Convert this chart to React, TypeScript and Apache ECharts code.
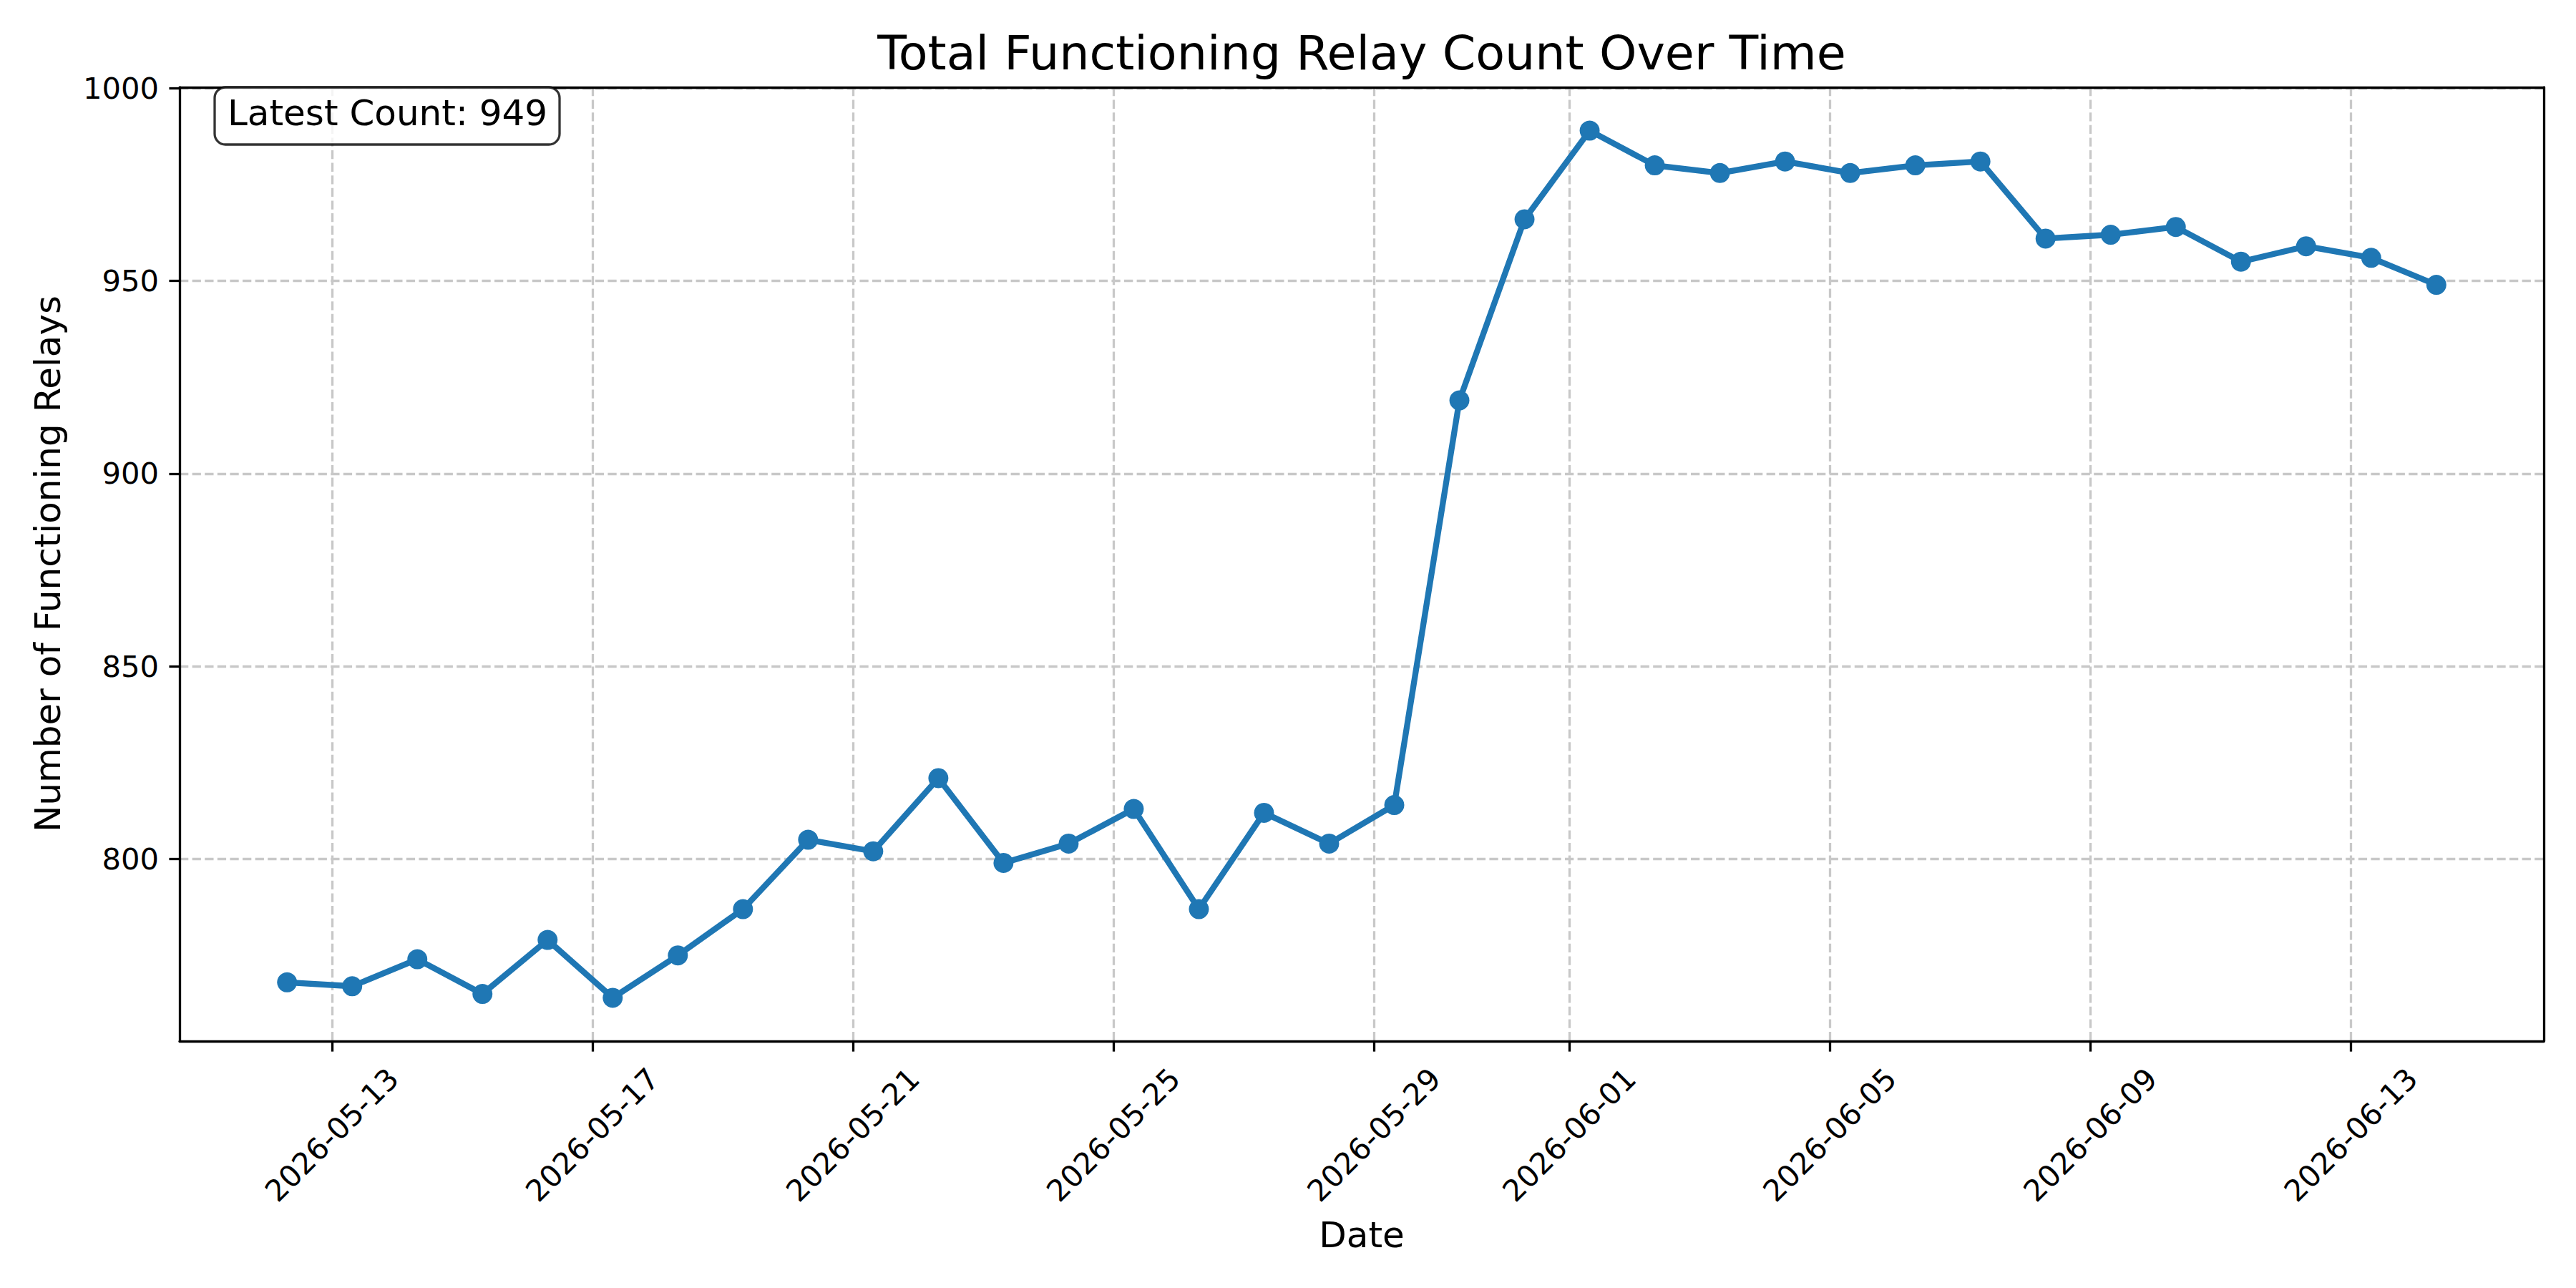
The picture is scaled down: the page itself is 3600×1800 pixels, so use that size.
import React, { useEffect, useRef } from 'react';
import * as echarts from 'echarts';

// ---- Data ----
const dates: string[] = [
  '2026-05-12', '2026-05-13', '2026-05-14', '2026-05-15', '2026-05-16', '2026-05-17',
  '2026-05-18', '2026-05-19', '2026-05-20', '2026-05-21', '2026-05-22', '2026-05-23',
  '2026-05-24', '2026-05-25', '2026-05-26', '2026-05-27', '2026-05-28', '2026-05-29',
  '2026-05-30', '2026-05-31', '2026-06-01', '2026-06-02', '2026-06-03', '2026-06-04',
  '2026-06-05', '2026-06-06', '2026-06-07', '2026-06-08', '2026-06-09', '2026-06-10',
  '2026-06-11', '2026-06-12', '2026-06-13', '2026-06-14',
];
const relayCounts: number[] = [
  768, 767, 774, 765, 779, 764, 775, 787, 805, 802,
  821, 799, 804, 813, 787, 812, 804, 814, 919, 966,
  989, 980, 978, 981, 978, 980, 981, 961, 962, 964,
  955, 959, 956, 949,
];
const sampleTimeOfDay = 'T07:30:00Z';
const xTickDates: string[] = [
  '2026-05-13', '2026-05-17', '2026-05-21', '2026-05-25', '2026-05-29',
  '2026-06-01', '2026-06-05', '2026-06-09', '2026-06-13',
];
const yTickValues: number[] = [800, 850, 900, 950, 1000];

const TITLE = 'Total Functioning Relay Count Over Time';
const X_NAME = 'Date';
const Y_NAME = 'Number of Functioning Relays';

const FONT = 'DejaVu Sans';
const BLUE = '#1f77b4';

export default function App() {
  const ref = useRef<HTMLDivElement>(null);

  useEffect(() => {
    if (!ref.current) return;
    const chart = echarts.init(ref.current, undefined, { renderer: 'svg' });

    const points = dates.map((d, i) => [Date.parse(d + sampleTimeOfDay), relayCounts[i]]);
    const xFirst = points[0][0];
    const xLast = points[points.length - 1][0];
    const xPad = 0.05 * (xLast - xFirst);
    const yLo = Math.min(...relayCounts);
    const yHi = Math.max(...relayCounts);
    const yPad = 0.05 * (yHi - yLo);
    const xMin = xFirst - xPad;
    const xMax = xLast + xPad;
    const yMin = yLo - yPad;
    const yMax = yHi + yPad;
    const xTicks = xTickDates.map((d) => Date.parse(d + 'T00:00:00Z'));
    const fmtDate = (v: number) => new Date(v).toISOString().slice(0, 10);
    const latest = relayCounts[relayCounts.length - 1];

    const gridLine = { color: '#c8c8c8', width: 3.3, type: [12.3, 5.3] as any };
    const axisLine = { color: '#000', width: 3.3 };

    const frameAxis = {
      type: 'value',
      axisLine: { show: true, onZero: false, lineStyle: axisLine },
      axisTick: { show: false },
      axisLabel: { show: false },
      splitLine: { show: false },
      z: 5,
    };

    chart.setOption({
      animation: false,
      backgroundColor: '#ffffff',
      textStyle: { fontFamily: FONT },
      grid: {
        left: 251,
        right: 45,
        top: 122,
        bottom: 345,
        show: false,
      },
      xAxis: [
        {
          type: 'value',
          min: xMin,
          max: xMax,
          axisLine: { show: true, onZero: false, lineStyle: axisLine },
          axisTick: { show: true, customValues: xTicks, length: 14.6, lineStyle: axisLine },
          axisLabel: {
            customValues: xTicks,
            formatter: fmtDate,
            rotate: 45,
            align: 'center',
            verticalAlign: 'middle',
            margin: 131,
            fontSize: 41.7,
            color: '#000',
            fontFamily: FONT,
          },
          splitLine: { show: true, lineStyle: gridLine },
        },
        { ...frameAxis, position: 'top', min: xMin, max: xMax },
      ],
      yAxis: [
        {
          type: 'value',
          min: yMin,
          max: yMax,
          axisLine: { show: true, onZero: false, lineStyle: axisLine },
          axisTick: { show: true, customValues: yTickValues, length: 14.6, lineStyle: axisLine },
          axisLabel: {
            customValues: yTickValues,
            formatter: (v: number) => String(v),
            margin: 29,
            fontSize: 41.7,
            color: '#000',
            fontFamily: FONT,
          },
          splitLine: { show: true, lineStyle: gridLine },
        },
        { ...frameAxis, position: 'right', min: yMin, max: yMax },
      ],
      series: [
        {
          type: 'line',
          xAxisIndex: 0,
          yAxisIndex: 0,
          data: points,
          symbol: 'circle',
          symbolSize: 28,
          showAllSymbol: true,
          lineStyle: { color: BLUE, width: 8.3 },
          itemStyle: { color: BLUE, borderWidth: 0 },
          z: 3,
        },
      ],
      graphic: [
        {
          type: 'text',
          x: 1903,
          y: 74,
          style: {
            text: TITLE,
            fontSize: 66.7,
            fontFamily: FONT,
            fill: '#000',
            align: 'center',
            verticalAlign: 'middle',
          },
        },
        {
          type: 'text',
          x: 1903,
          y: 1726,
          style: {
            text: X_NAME,
            fontSize: 50,
            fontFamily: FONT,
            fill: '#000',
            align: 'center',
            verticalAlign: 'middle',
          },
        },
        {
          type: 'text',
          x: 67,
          y: 788,
          rotation: Math.PI / 2,
          style: {
            text: Y_NAME,
            fontSize: 50,
            fontFamily: FONT,
            fill: '#000',
            align: 'center',
            verticalAlign: 'middle',
          },
        },
        {
          type: 'rect',
          shape: { x: 300, y: 122, width: 482, height: 80, r: 15 },
          style: { fill: 'rgba(255,255,255,0.8)', stroke: 'rgba(0,0,0,0.8)', lineWidth: 3.3 },
          z: 10,
        },
        {
          type: 'text',
          x: 318,
          y: 158,
          z: 11,
          style: {
            text: `Latest Count: ${latest}`,
            fontSize: 50,
            fontFamily: FONT,
            fill: '#000',
            align: 'left',
            verticalAlign: 'middle',
          },
        },
      ],
    });

    return () => {
      chart.dispose();
    };
  }, []);

  return (
    <div
      ref={ref}
      style={{ position: 'fixed', left: 0, top: 0, width: 3600, height: 1800 }}
    />
  );
}
